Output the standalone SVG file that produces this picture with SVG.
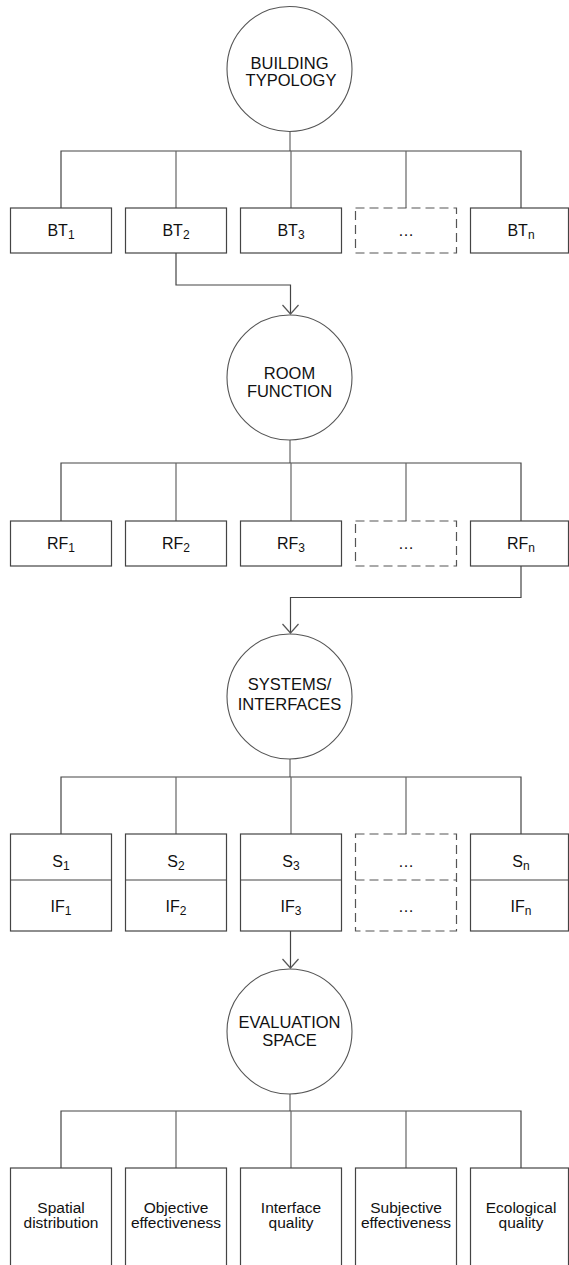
<svg xmlns="http://www.w3.org/2000/svg" width="569" height="1265" viewBox="0 0 569 1265">
<defs>
<marker id="arr" markerUnits="userSpaceOnUse" markerWidth="12" markerHeight="18" viewBox="0 0 12 18" refX="10" refY="9" orient="auto">
<path d="M1,1 L10,9 L1,17" fill="none" stroke="#555" stroke-width="1.2"/>
</marker>
<style>
.c{fill:#fff;stroke:#555;stroke-width:1.1}
.b{fill:#fff;stroke:#444;stroke-width:1.2}
.d{fill:#fff;stroke:#555;stroke-width:1.2;stroke-dasharray:9,5}
.l{fill:none;stroke:#444;stroke-width:1.2}
.v{fill:none;stroke:#666;stroke-width:1.2}
text{font-family:"Liberation Sans",Arial,sans-serif;fill:#111;text-anchor:middle}
.t{font-size:16.5px}
.n{font-size:16px}
.s{font-size:12px}
.e{font-size:15.5px}
</style>
</defs>
<g id="connectors">
<path class="v" d="M290,131.5 V151"/>
<path class="l" d="M61,208 V151 H521 V208"/>
<path class="v" d="M176,151 V208 M291,151 V208 M406,151 V208"/>
<path class="l" d="M176,253 V285 H290.5 V314" marker-end="url(#arr)"/>
<path class="v" d="M290,440 V463"/>
<path class="l" d="M61,521 V463 H521 V521"/>
<path class="v" d="M176,463 V521 M291,463 V521 M406,463 V521"/>
<path class="l" d="M521,566 V597.5 H290.5 V633" marker-end="url(#arr)"/>
<path class="v" d="M290,759 V777"/>
<path class="l" d="M61,834 V777 H521 V834"/>
<path class="v" d="M176,777 V834 M291,777 V834 M406,777 V834"/>
<path class="l" d="M290.5,931 V968" marker-end="url(#arr)"/>
<path class="v" d="M290,1094 V1111"/>
<path class="l" d="M61,1168 V1111 H521 V1168"/>
<path class="v" d="M176,1111 V1168 M291,1111 V1168 M406,1111 V1168"/>
</g>
<g id="building-typology">
<circle class="c" cx="289.5" cy="69" r="62.5"/>
<text class="t" x="289.5" y="68.5">BUILDING</text>
<text class="t" x="291" y="85.5">TYPOLOGY</text>
</g>
<g id="bt1"><rect class="b" x="10.5" y="208" width="101" height="45"/><text class="n" x="61" y="236">BT<tspan class="s" dy="3">1</tspan></text></g>
<g id="bt2"><rect class="b" x="125.5" y="208" width="101" height="45"/><text class="n" x="176" y="236">BT<tspan class="s" dy="3">2</tspan></text></g>
<g id="bt3"><rect class="b" x="240.5" y="208" width="101" height="45"/><text class="n" x="291" y="236">BT<tspan class="s" dy="3">3</tspan></text></g>
<g id="bt-more"><rect class="d" x="355.5" y="208" width="101" height="45"/><text class="n" x="406" y="236">…</text></g>
<g id="btn"><rect class="b" x="470.5" y="208" width="98" height="45"/><text class="n" x="521" y="236">BT<tspan class="s" dy="3">n</tspan></text></g>
<g id="room-function">
<circle class="c" cx="289.5" cy="377.5" r="62.5"/>
<text class="t" x="289.5" y="378.5">ROOM</text>
<text class="t" x="289.5" y="396.5">FUNCTION</text>
</g>
<g id="rf1"><rect class="b" x="10.5" y="521" width="101" height="45"/><text class="n" x="61" y="549">RF<tspan class="s" dy="3">1</tspan></text></g>
<g id="rf2"><rect class="b" x="125.5" y="521" width="101" height="45"/><text class="n" x="176" y="549">RF<tspan class="s" dy="3">2</tspan></text></g>
<g id="rf3"><rect class="b" x="240.5" y="521" width="101" height="45"/><text class="n" x="291" y="549">RF<tspan class="s" dy="3">3</tspan></text></g>
<g id="rf-more"><rect class="d" x="355.5" y="521" width="101" height="45"/><text class="n" x="406" y="549">…</text></g>
<g id="rfn"><rect class="b" x="470.5" y="521" width="98" height="45"/><text class="n" x="521" y="549">RF<tspan class="s" dy="3">n</tspan></text></g>
<g id="systems-interfaces">
<circle class="c" cx="289.5" cy="696.5" r="62.5"/>
<text class="t" x="289.5" y="690">SYSTEMS/</text>
<text class="t" x="289.5" y="709.5">INTERFACES</text>
</g>
<g id="s1"><rect class="b" x="10.5" y="834" width="101" height="97"/><path class="l" d="M10.5,880 H111.5"/><text class="n" x="61" y="866.5">S<tspan class="s" dy="3">1</tspan></text><text class="n" x="61" y="911.5">IF<tspan class="s" dy="3">1</tspan></text></g>
<g id="s2"><rect class="b" x="125.5" y="834" width="101" height="97"/><path class="l" d="M125.5,880 H226.5"/><text class="n" x="176" y="866.5">S<tspan class="s" dy="3">2</tspan></text><text class="n" x="176" y="911.5">IF<tspan class="s" dy="3">2</tspan></text></g>
<g id="s3"><rect class="b" x="240.5" y="834" width="101" height="97"/><path class="l" d="M240.5,880 H341.5"/><text class="n" x="291" y="866.5">S<tspan class="s" dy="3">3</tspan></text><text class="n" x="291" y="911.5">IF<tspan class="s" dy="3">3</tspan></text></g>
<g id="s-more"><rect class="d" x="355.5" y="834" width="101" height="97"/><path class="d" d="M355.5,880 H456.5"/><text class="n" x="406" y="866.5">…</text><text class="n" x="406" y="911.5">…</text></g>
<g id="sn"><rect class="b" x="470.5" y="834" width="98" height="97"/><path class="l" d="M470.5,880 H568.5"/><text class="n" x="521" y="866.5">S<tspan class="s" dy="3">n</tspan></text><text class="n" x="521" y="911.5">IF<tspan class="s" dy="3">n</tspan></text></g>
<g id="evaluation-space">
<circle class="c" cx="289.5" cy="1031.5" r="62.5"/>
<text class="t" x="289.5" y="1028">EVALUATION</text>
<text class="t" x="289.5" y="1046">SPACE</text>
</g>
<g id="spatial"><rect class="b" x="10.5" y="1168" width="101" height="110"/><text class="e" x="61" y="1212.5">Spatial</text><text class="e" x="61" y="1228">distribution</text></g>
<g id="objective"><rect class="b" x="125.5" y="1168" width="101" height="110"/><text class="e" x="176" y="1212.5">Objective</text><text class="e" x="176" y="1228">effectiveness</text></g>
<g id="interface"><rect class="b" x="240.5" y="1168" width="101" height="110"/><text class="e" x="291" y="1212.5">Interface</text><text class="e" x="291" y="1228">quality</text></g>
<g id="subjective"><rect class="b" x="355.5" y="1168" width="101" height="110"/><text class="e" x="406" y="1212.5">Subjective</text><text class="e" x="406" y="1228">effectiveness</text></g>
<g id="ecological"><rect class="b" x="470.5" y="1168" width="98" height="110"/><text class="e" x="521" y="1212.5">Ecological</text><text class="e" x="521" y="1228">quality</text></g>
</svg>
